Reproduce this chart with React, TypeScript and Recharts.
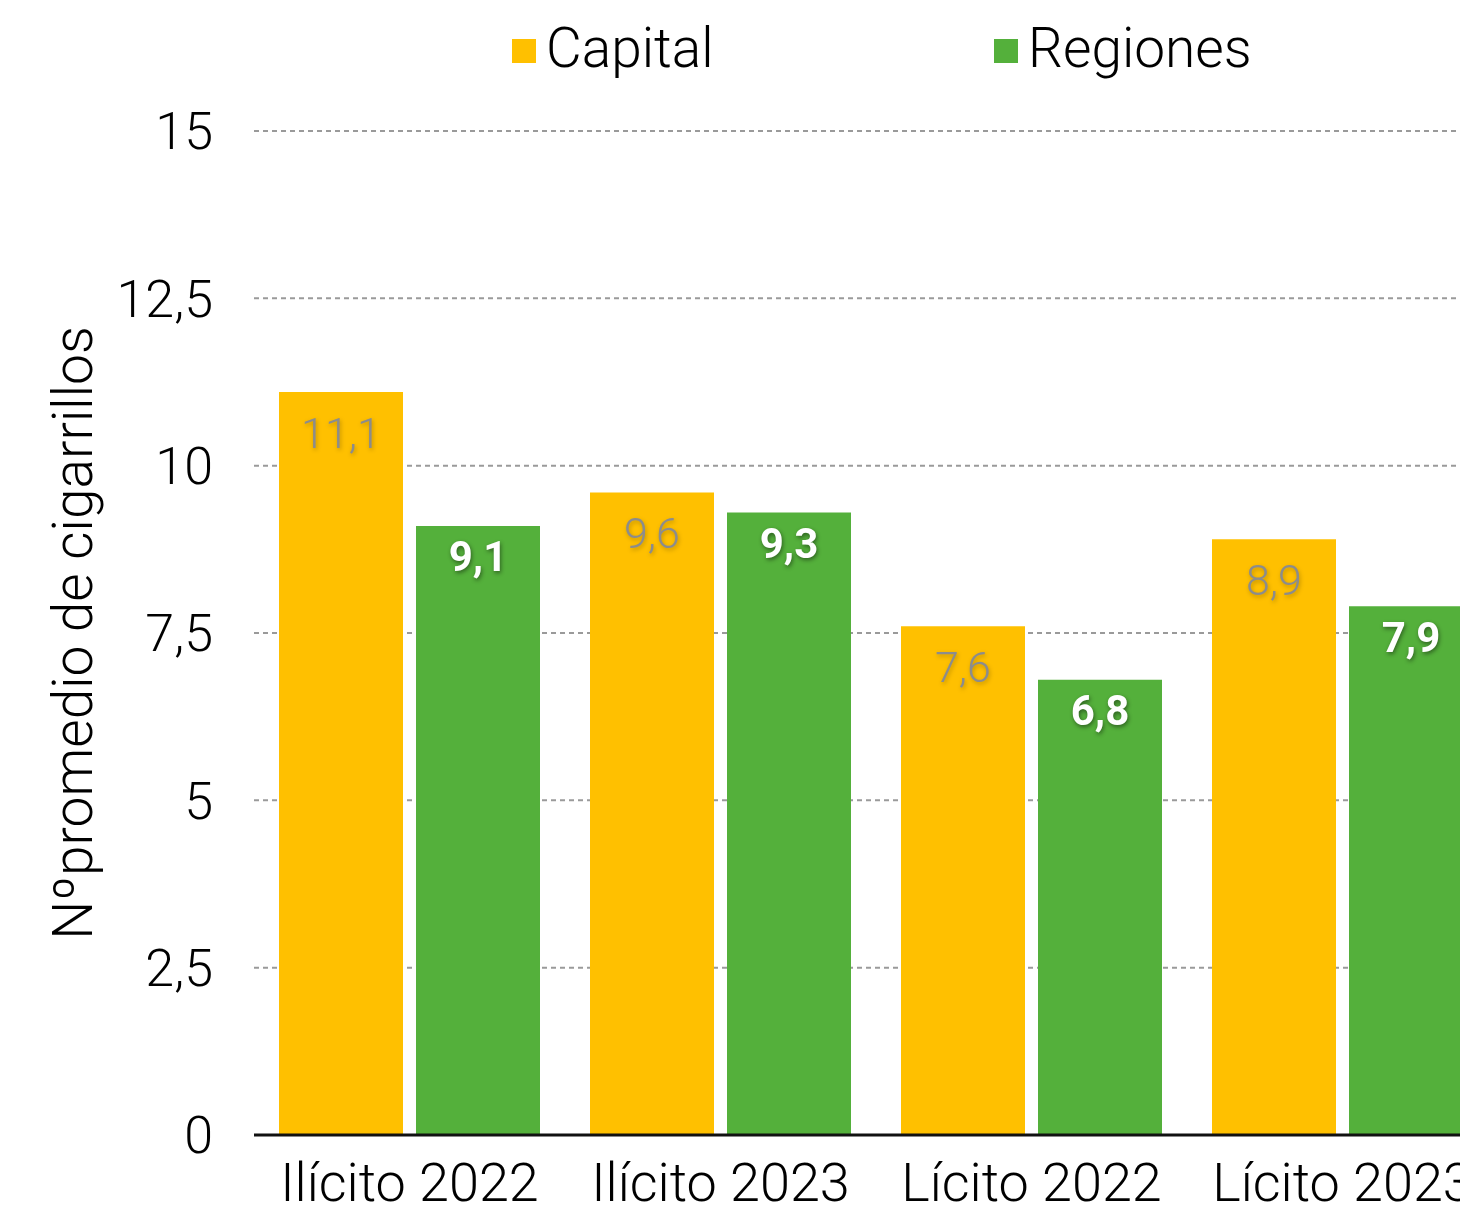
import { BarChart, Bar, XAxis, YAxis, CartesianGrid, Legend, LabelList } from 'recharts'

const categories = ['Ilícito 2022', 'Ilícito 2023', 'Lícito 2022', 'Lícito 2023']
const capital = [11.1, 9.6, 7.6, 8.9]
const regiones = [9.1, 9.3, 6.8, 7.9]
const yTicks = [0, 2.5, 5, 7.5, 10, 12.5, 15]

const FONT = 'Roboto, "Liberation Sans", sans-serif'
const fmt = (v: number) => String(v).replace('.', ',')

const data = categories.map((name, i) => ({ name, capital: capital[i], regiones: regiones[i] }))

function CapitalLabel(props: any) {
  const { x, y, width, value } = props
  return (
    <text x={x + width / 2} y={y + 41} textAnchor="middle" dominantBaseline="central"
      fontSize={43} fontWeight={300} fill="#8c8c8c" fontFamily={FONT}
      style={{ filter: 'drop-shadow(1px 2px 2px rgba(0,0,0,0.25))' }}>
      {fmt(value)}
    </text>
  )
}

function RegionLabel(props: any) {
  const { x, y, width, value } = props
  return (
    <text x={x + width / 2} y={y + 31} textAnchor="middle" dominantBaseline="central"
      fontSize={42} fontWeight={700} fill="#fff" fontFamily={FONT}
      style={{ filter: 'drop-shadow(1px 2px 2px rgba(0,0,0,0.45))' }}>
      {fmt(value)}
    </text>
  )
}

function TopLegend() {
  const items = [
    { label: 'Capital', color: '#ffc000', w: 482 },
    { label: 'Regiones', color: '#54b03b', w: 300 },
  ]
  return (
    <div style={{ display: 'flex', fontFamily: FONT, fontWeight: 300, fontSize: 55, lineHeight: '60px', color: '#000' }}>
      {items.map(it => (
        <div key={it.label} style={{ display: 'flex', alignItems: 'center', width: it.w }}>
          <span style={{ width: 24, height: 24, background: it.color, marginRight: 10, marginTop: 6 }} />
          <span>{it.label}</span>
        </div>
      ))}
    </div>
  )
}

export default function App() {
  return (
    <div style={{ position: 'fixed', left: 0, top: 0, width: 1460, height: 1205, overflow: 'hidden', background: '#fff' }}>
      <BarChart width={1498} height={1205} data={data}
        margin={{ top: 71, right: 0, left: 0, bottom: 0 }}
        barCategoryGap={25} barGap={13}>
        <CartesianGrid vertical={false} stroke="#9a9a9a" strokeWidth={2} strokeDasharray="5 4" />
        <XAxis dataKey="name" height={70} axisLine={{ stroke: '#111', strokeWidth: 3 }} tickLine={false}
          tickSize={0} tickMargin={28}
          tick={{ fontSize: 54, fill: '#000', fontFamily: FONT, fontWeight: 300 }} interval={0} />
        <YAxis width={254} domain={[0, 15]} ticks={yTicks} axisLine={false} tickLine={false}
          tickSize={0} tickMargin={41} tickFormatter={fmt}
          tick={{ fontSize: 52, fill: '#000', fontFamily: FONT, fontWeight: 300 }}
          label={{ value: 'Nºpromedio de cigarrillos', angle: -90, position: 'insideLeft', offset: 72,
            style: { fontSize: 55, fill: '#000', fontFamily: FONT, fontWeight: 300, textAnchor: 'middle' } }} />
        <Legend verticalAlign="top" content={<TopLegend />}
          wrapperStyle={{ top: 18, left: 512, width: 800, height: 60 }} />
        <Bar dataKey="capital" name="Capital" fill="#ffc000" isAnimationActive={false}>
          <LabelList dataKey="capital" content={<CapitalLabel />} />
        </Bar>
        <Bar dataKey="regiones" name="Regiones" fill="#54b03b" isAnimationActive={false}>
          <LabelList dataKey="regiones" content={<RegionLabel />} />
        </Bar>
      </BarChart>
    </div>
  )
}
